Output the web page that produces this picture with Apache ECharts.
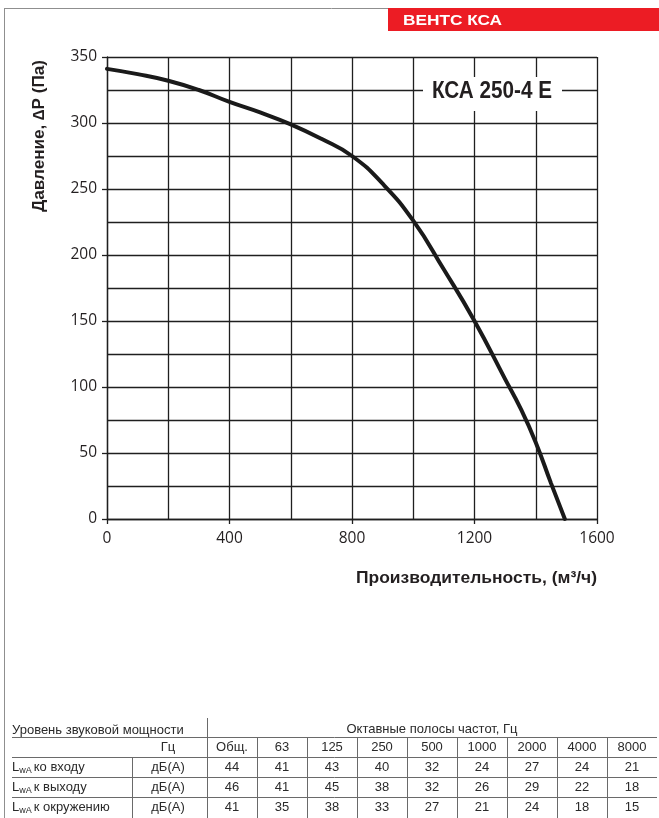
<!DOCTYPE html>
<html><head><meta charset="utf-8">
<script src="https://cdn.jsdelivr.net/npm/echarts@6/dist/echarts.min.js"></script>
<style>html,body{margin:0;padding:0;background:#fff}#c{width:659px;height:818px}</style>
</head><body><div id="c"></div>
<script>
// ---- chart data ----
const flowRate = [0, 100, 200, 300, 400, 500, 600, 700, 800, 900, 1000, 1100, 1200, 1300, 1350, 1400, 1450, 1495];
const pressure = [341, 337, 332, 325, 316, 308, 299, 288, 275, 254, 226, 189, 150, 106, 84, 58, 27, 0];
const headerTitle = 'ВЕНТС КСА';
const modelName = 'КСА 250-4 E';
const yTitle = 'Давление, ∆P (Па)';
const xTitle = 'Производительность, (м³/ч)';

// ---- sound table data ----
const tableLeftTitle = 'Уровень звуковой мощности';
const tableRightTitle = 'Октавные полосы частот, Гц';
const hzLabel = 'Гц';
const unitLabel = 'дБ(А)';
const bands = ['Общ.', '63', '125', '250', '500', '1000', '2000', '4000', '8000'];
const rowNames = ['ко входу', 'к выходу', 'к окружению'];
const soundInlet = [44, 41, 43, 40, 32, 24, 27, 24, 21];
const soundOutlet = [46, 41, 45, 38, 32, 26, 29, 22, 18];
const soundAmbient = [41, 35, 38, 33, 27, 21, 24, 18, 15];
const soundRows = [soundInlet, soundOutlet, soundAmbient];

const chart = echarts.init(document.getElementById('c'), null, {renderer: 'canvas'});
const mctx = document.createElement('canvas').getContext('2d');
function measure(text, size, weight, family) {
  mctx.font = (weight || 'normal') + ' ' + size + 'px "' + family + '"';
  return mctx.measureText(text).width;
}
const TF = 'Liberation Sans';
const g = [];
function text(x, y, t, o) {
  o = o || {};
  const size = o.size || 13, weight = o.weight || 'normal', fam = o.family || TF;
  let sx = 1;
  if (o.width) sx = o.width / measure(t, size, weight, fam);
  g.push({
    type: 'text', x: x, y: y, z: 20, scaleX: sx, rotation: o.rotation || 0,
    style: {text: t, fill: o.color || '#2a2a2a', fontSize: size, fontWeight: weight,
      fontFamily: fam, align: o.align || 'left', verticalAlign: 'middle'}
  });
}
function line(x1, y1, x2, y2, color, w) {
  g.push({type: 'line', z: 15, shape: {x1: x1, y1: y1, x2: x2, y2: y2},
    style: {stroke: color || '#666', lineWidth: w || 1}});
}

// frame
line(4.5, 8, 4.5, 818, '#8f8f8f', 1);
line(4, 8.5, 659, 8.5, '#8f8f8f', 1);
// red header
g.push({type: 'rect', z: 16, shape: {x: 388, y: 8, width: 271, height: 23}, style: {fill: '#ec1c24'}});
text(403, 20.5, headerTitle, {size: 15, weight: 'bold', color: '#ffffff', width: 99});
// model label box
g.push({type: 'rect', z: 16, shape: {x: 423, y: 77, width: 139, height: 34}, style: {fill: '#ffffff'}});
text(492, 92, modelName, {size: 23, weight: 'bold', color: '#231f20', align: 'center', width: 120});
// axis titles
text(40, 136, yTitle, {size: 16, weight: 'bold', color: '#231f20', align: 'center', width: 152, rotation: Math.PI / 2});
text(597, 578, xTitle, {size: 17, weight: 'bold', color: '#231f20', align: 'right', width: 241});

// table
const colX0 = 207, colW = 50;
const rowLines = [737, 757, 777, 797];
const tRight = colX0 + colW * bands.length;
rowLines.forEach(function (y) { line(12, y + 0.5, tRight, y + 0.5, '#6a6a6a', 1); });
line(207.5, 718, 207.5, 818, '#6a6a6a', 1);
line(132.5, 757, 132.5, 818, '#6a6a6a', 1);
for (let i = 1; i < bands.length; i++) line(colX0 + colW * i + 0.5, 737, colX0 + colW * i + 0.5, 818, '#6a6a6a', 1);
text(12, 730, tableLeftTitle, {size: 13});
text((colX0 + tRight) / 2, 729, tableRightTitle, {size: 13, align: 'center'});
text(168, 747.5, hzLabel, {size: 13, align: 'center'});
bands.forEach(function (b, i) { text(colX0 + colW * i + colW / 2, 747.5, b, {size: 13, align: 'center'}); });
rowNames.forEach(function (n, r) {
  const y = 767.5 + r * 20;
  text(12, y, 'L', {size: 13});
  const lw = measure('L', 13, 'normal', TF);
  text(12 + lw, y + 3, 'wA', {size: 9});
  const sw = measure('wA', 9, 'normal', TF);
  text(12 + lw + sw + 2, y, n, {size: 13});
  text(168, y, unitLabel, {size: 13, align: 'center'});
  soundRows[r].forEach(function (v, i) { text(colX0 + colW * i + colW / 2, y, String(v), {size: 13, align: 'center'}); });
});

const gridColor = '#1f1f1f';
const labelFont = {color: '#231f20', fontSize: 15.5, fontFamily: 'Open Sans', formatter: function (v) { return String(v); }};
chart.setOption({
  animation: false,
  backgroundColor: '#ffffff',
  grid: {left: 107, top: 57, width: 490, height: 462, containLabel: false},
  xAxis: {
    type: 'value', min: 0, max: 1600, interval: 400,
    axisLine: {show: true, lineStyle: {color: gridColor, width: 1.3}},
    axisTick: {show: true, length: 5, lineStyle: {color: gridColor, width: 1.3}},
    axisLabel: Object.assign({margin: 12}, labelFont),
    splitLine: {show: true, lineStyle: {color: gridColor, width: 1.3}},
    minorTick: {show: false, splitNumber: 2},
    minorSplitLine: {show: true, lineStyle: {color: gridColor, width: 1.3}}
  },
  yAxis: {
    type: 'value', min: 0, max: 350, interval: 50,
    axisLine: {show: true, lineStyle: {color: gridColor, width: 1.3}},
    axisTick: {show: true, length: 5, lineStyle: {color: gridColor, width: 1.3}},
    axisLabel: Object.assign({margin: 10}, labelFont),
    splitLine: {show: true, lineStyle: {color: gridColor, width: 1.3}},
    minorTick: {show: false, splitNumber: 2},
    minorSplitLine: {show: true, lineStyle: {color: gridColor, width: 1.3}}
  },
  series: [{
    type: 'line', data: flowRate.map(function (f, i) { return [f, pressure[i]]; }),
    symbol: 'none', smooth: 0.5, clip: false,
    lineStyle: {color: '#1a1a1a', width: 4, cap: 'round'}, z: 5
  }],
  graphic: g
});
</script>
</body></html>
